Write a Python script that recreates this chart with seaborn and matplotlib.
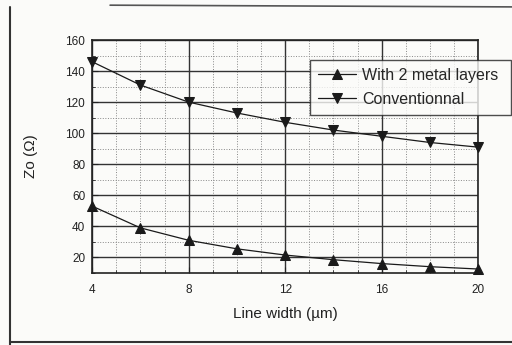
import matplotlib
matplotlib.use("Agg")
import matplotlib.pyplot as plt
import seaborn as sns
import pandas as pd
from matplotlib.ticker import MultipleLocator

# values
line_width = [4, 6, 8, 10, 12, 14, 16, 18, 20]
zo_metal = [53, 39, 31, 25.5, 21.5, 18.5, 16, 14, 12.5]
zo_conv = [146, 131, 120, 113, 107, 102, 98, 94, 91]
series_names = ["With 2 metal layers", "Conventionnal"]

df = pd.concat([
    pd.DataFrame({"w": line_width, "zo": zo_metal, "series": series_names[0]}),
    pd.DataFrame({"w": line_width, "zo": zo_conv, "series": series_names[1]}),
])

sns.set_style("white")
plt.rcParams["font.family"] = ["Liberation Sans", "DejaVu Sans"]

fig = plt.figure(figsize=(5.12, 3.45), dpi=100)
fig.patch.set_facecolor("#fbfbf9")
ax = fig.add_axes([0.18, 0.209, 0.754, 0.675])
ax.set_facecolor("#fbfbf9")

sns.lineplot(data=df, x="w", y="zo", hue="series", style="series",
             markers={series_names[0]: "^", series_names[1]: "v"}, dashes=False,
             palette=["#1a1a1a", "#1a1a1a"], markersize=7.5, linewidth=0.9,
             markeredgecolor="#1a1a1a", ax=ax)
for ln in ax.lines:
    ln.set_clip_on(False)
    ln.set_zorder(5)

ax.set_xlim(4, 20)
ax.set_ylim(10, 160)
ax.xaxis.set_major_locator(MultipleLocator(4))
ax.xaxis.set_minor_locator(MultipleLocator(1))
ax.yaxis.set_minor_locator(MultipleLocator(10))
ax.set_yticks([20, 40, 60, 80, 100, 120, 140, 160])
ax.grid(which="major", color="#333333", linewidth=1.0)
ax.grid(which="minor", color="#888888", linewidth=0.7, linestyle=":")
ax.tick_params(which="both", direction="in", colors="#222222", labelsize=8.5)
ax.tick_params(which="major", length=4)
ax.tick_params(which="minor", length=2)
ax.tick_params(axis="x", which="both", bottom=True, pad=8)
ax.tick_params(axis="y", which="both", left=True, pad=5)
for s in ax.spines.values():
    s.set_color("#222222")
    s.set_linewidth(1.2)

ax.set_xlabel("Line width (µm)", fontsize=11, color="#222222", labelpad=8)
ax.set_ylabel("Zo (Ω)", fontsize=11, color="#222222", labelpad=20)

handles, labels = ax.get_legend_handles_labels()
ax.legend(handles, labels, loc="upper left", bbox_to_anchor=(0.605, 0.826, 0.393, 0.0),
          bbox_transform=fig.transFigure, mode="expand", frameon=True, fancybox=False,
          edgecolor="#222222", fontsize=11.5, handlelength=2.4, handletextpad=0.4,
          borderpad=0.5, labelspacing=0.55, borderaxespad=0)
ax.get_legend().get_frame().set_linewidth(1.0)
ax.get_legend().get_frame().set_facecolor("#fbfbf9")
ax.get_legend().set_zorder(10)

# scanned page border lines
fig.add_artist(plt.Line2D([0.02, 0.02], [0.0, 0.98], color="#333333", linewidth=1.5))
fig.add_artist(plt.Line2D([0.02, 1.0], [0.01, 0.01], color="#333333", linewidth=1.5))
fig.add_artist(plt.Line2D([0.215, 1.0], [0.985, 0.98], color="#555555", linewidth=1.2))

fig.savefig("out.png", dpi=100, facecolor=fig.get_facecolor())
